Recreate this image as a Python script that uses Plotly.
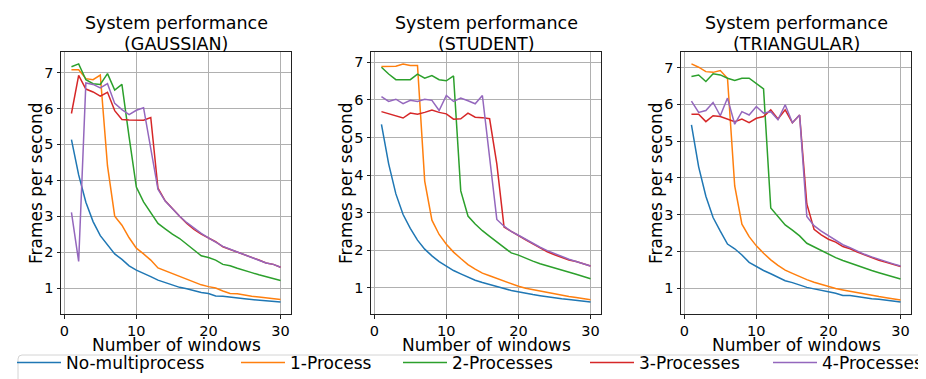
import plotly.graph_objects as go

windows = list(range(1, 31))
series_names = ["No-multiprocess", "1-Process", "2-Processes", "3-Processes", "4-Processes"]
colors = ["#1f77b4", "#ff7f0e", "#2ca02c", "#d62728", "#9467bd"]
title_line1 = "System performance"
panel_names = ["(GAUSSIAN)", "(STUDENT)", "(TRIANGULAR)"]
x_ticks = [0, 10, 20, 30]
y_ticks = [1, 2, 3, 4, 5, 6, 7]

gauss_none = [5.13, 4.15, 3.39, 2.85, 2.46, 2.2, 1.95, 1.8, 1.62, 1.5, 1.42, 1.32, 1.22, 1.15, 1.08, 1.02, 0.98, 0.92, 0.88, 0.85, 0.78, 0.77, 0.74, 0.72, 0.70, 0.68, 0.66, 0.65, 0.63, 0.61]
gauss_p1 = [7.08, 7.08, 6.83, 6.8, 6.93, 4.4, 3.0, 2.75, 2.4, 2.11, 1.95, 1.78, 1.56, 1.48, 1.4, 1.32, 1.25, 1.16, 1.09, 1.04, 1.0, 0.92, 0.85, 0.84, 0.8, 0.77, 0.75, 0.72, 0.7, 0.68]
gauss_p2 = [7.16, 7.24, 6.8, 6.69, 6.67, 6.97, 6.51, 6.67, 5.2, 3.81, 3.4, 3.1, 2.8, 2.65, 2.5, 2.38, 2.22, 2.08, 1.9, 1.85, 1.78, 1.66, 1.62, 1.55, 1.5, 1.43, 1.37, 1.32, 1.27, 1.21]
gauss_p3 = [5.86, 6.92, 6.54, 6.46, 6.34, 6.45, 5.94, 5.69, 5.68, 5.67, 5.67, 5.75, 3.78, 3.43, 3.2, 3.0, 2.8, 2.63, 2.5, 2.4, 2.29, 2.15, 2.08, 2.0, 1.93, 1.85, 1.78, 1.7, 1.66, 1.58]
gauss_p4 = [3.11, 1.74, 6.71, 6.67, 6.57, 6.69, 6.14, 5.97, 5.83, 5.95, 6.02, 4.9, 3.75, 3.42, 3.2, 3.0, 2.82, 2.66, 2.52, 2.4, 2.28, 2.16, 2.08, 2.0, 1.93, 1.85, 1.78, 1.7, 1.66, 1.58]

student_none = [5.35, 4.3, 3.5, 2.95, 2.58, 2.27, 2.03, 1.85, 1.7, 1.57, 1.46, 1.37, 1.28, 1.2, 1.14, 1.08, 1.03, 0.98, 0.93, 0.89, 0.86, 0.82, 0.79, 0.76, 0.74, 0.71, 0.69, 0.67, 0.65, 0.62]
student_p1 = [6.89, 6.9, 6.9, 6.96, 6.92, 6.92, 3.84, 2.8, 2.42, 2.16, 1.95, 1.78, 1.62, 1.5, 1.39, 1.32, 1.25, 1.17, 1.1, 1.04, 0.99, 0.95, 0.91, 0.87, 0.83, 0.8, 0.77, 0.74, 0.71, 0.68]
student_p2 = [6.87, 6.69, 6.54, 6.54, 6.54, 6.69, 6.58, 6.65, 6.54, 6.51, 6.64, 3.58, 2.91, 2.7, 2.52, 2.37, 2.22, 2.08, 1.93, 1.87, 1.78, 1.71, 1.64, 1.58, 1.52, 1.46, 1.41, 1.36, 1.3, 1.24]
student_p3 = [5.69, 5.63, 5.58, 5.52, 5.65, 5.62, 5.67, 5.73, 5.67, 5.63, 5.49, 5.5, 5.65, 5.54, 5.53, 5.5, 4.3, 2.62, 2.5, 2.4, 2.28, 2.17, 2.06, 1.96, 1.88, 1.8, 1.74, 1.7, 1.64, 1.58]
student_p4 = [6.09, 5.96, 6.02, 5.9, 5.99, 5.96, 6.02, 5.99, 5.72, 6.12, 5.96, 6.05, 5.98, 5.9, 6.12, 4.45, 2.82, 2.64, 2.5, 2.4, 2.29, 2.18, 2.08, 1.99, 1.91, 1.83, 1.76, 1.7, 1.64, 1.58]

tri_none = [5.44, 4.3, 3.5, 2.92, 2.55, 2.2, 2.07, 1.9, 1.7, 1.58, 1.48, 1.39, 1.29, 1.2, 1.15, 1.08, 1.02, 0.98, 0.93, 0.9, 0.86, 0.8, 0.8, 0.77, 0.74, 0.71, 0.7, 0.68, 0.65, 0.62]
tri_p1 = [7.1, 7.01, 6.89, 6.87, 6.92, 6.71, 3.78, 2.74, 2.4, 2.15, 1.95, 1.77, 1.62, 1.49, 1.4, 1.31, 1.23, 1.16, 1.1, 1.04, 0.99, 0.95, 0.91, 0.87, 0.83, 0.8, 0.77, 0.74, 0.71, 0.68]
tri_p2 = [6.76, 6.8, 6.62, 6.83, 6.8, 6.71, 6.65, 6.71, 6.71, 6.56, 6.42, 3.18, 2.95, 2.72, 2.58, 2.42, 2.22, 2.12, 2.02, 1.92, 1.83, 1.75, 1.68, 1.61, 1.53, 1.48, 1.42, 1.36, 1.31, 1.25]
tri_p3 = [5.73, 5.73, 5.53, 5.69, 5.67, 5.6, 5.53, 5.6, 5.5, 5.62, 5.67, 5.85, 5.6, 5.85, 5.5, 5.71, 3.29, 2.6, 2.45, 2.33, 2.25, 2.13, 2.07, 1.98, 1.9, 1.82, 1.76, 1.7, 1.65, 1.59]
tri_p4 = [6.09, 5.78, 5.83, 6.05, 5.69, 6.17, 5.46, 5.8, 5.71, 5.94, 5.76, 5.8, 5.58, 5.99, 5.5, 5.71, 2.95, 2.7, 2.55, 2.42, 2.3, 2.18, 2.1, 2.0, 1.92, 1.85, 1.78, 1.72, 1.66, 1.6]

panels = [
    [gauss_none, gauss_p1, gauss_p2, gauss_p3, gauss_p4],
    [student_none, student_p1, student_p2, student_p3, student_p4],
    [tri_none, tri_p1, tri_p2, tri_p3, tri_p4],
]

W, H = 926, 379
FONT = "DejaVu Sans"
x_px = [(53, 283), (363, 593), (673, 903)]
y_top, y_bot = 44, 306
y_dom = [1 - y_bot / H, 1 - y_top / H]
legend_x_px = [4, 228, 390, 577, 760]
legend_names = ["legend", "legend2", "legend3", "legend4", "legend5"]

fig = go.Figure()
annotations = []
for i, panel in enumerate(panels):
    sfx = "" if i == 0 else str(i + 1)
    for j, vals in enumerate(panel):
        fig.add_trace(go.Scatter(
            x=windows, y=vals, mode="lines",
            name=series_names[j],
            line=dict(color=colors[j], width=1.5),
            xaxis="x" + sfx, yaxis="y" + sfx,
            showlegend=(i == 0), legend=legend_names[j],
        ))
    allv = [v for s in panel for v in s]
    lo, hi = min(allv), max(allv)
    m = (hi - lo) * 0.05
    xm = (windows[-1] - windows[0]) * 0.05
    common = dict(
        showgrid=True, gridcolor="#b0b0b0", gridwidth=1.2,
        showline=True, linecolor="#222222", linewidth=1, mirror=True,
        ticks="outside", ticklen=3.5, tickcolor="#222222", tickwidth=1,
        tickfont=dict(family=FONT, size=14.5, color="black"),
        zeroline=False, automargin=False,
    )
    fig.layout["xaxis" + sfx] = dict(
        common, domain=[x_px[i][0] / W, x_px[i][1] / W],
        range=[windows[0] - xm, windows[-1] + xm], tickvals=x_ticks,
        anchor="y" + sfx,
    )
    fig.layout["yaxis" + sfx] = dict(
        common, domain=y_dom, range=[lo - m, hi + m], tickvals=y_ticks,
        anchor="x" + sfx,
    )
    cx = (x_px[i][0] + x_px[i][1]) / 2 / W
    annotations.append(dict(
        text=title_line1, x=cx, y=1 - 15 / H, xref="paper", yref="paper",
        xanchor="center", yanchor="middle", showarrow=False,
        font=dict(family=FONT, size=17.5, color="black"),
    ))
    annotations.append(dict(
        text=panel_names[i], x=cx, y=1 - 36 / H, xref="paper", yref="paper",
        xanchor="center", yanchor="middle", showarrow=False,
        font=dict(family=FONT, size=17.5, color="black"),
    ))
    annotations.append(dict(
        text="Number of windows", x=cx, y=1 - 337 / H, xref="paper", yref="paper",
        xanchor="center", yanchor="middle", showarrow=False,
        font=dict(family=FONT, size=17, color="black"),
    ))
    annotations.append(dict(
        text="Frames per second", x=(x_px[i][0] - 25) / W, y=(y_dom[0] + y_dom[1]) / 2,
        xref="paper", yref="paper", xanchor="center", yanchor="middle",
        textangle=-90, showarrow=False,
        font=dict(family=FONT, size=17, color="black"),
    ))

legend_common = dict(
    orientation="h", yanchor="middle", y=1 - 355 / H, xanchor="left",
    borderwidth=0, bgcolor="rgba(0,0,0,0)",
    font=dict(family=FONT, size=17, color="black"),
    itemwidth=44,
)
layout_legends = {}
for k, name in enumerate(legend_names):
    layout_legends[name] = dict(legend_common, x=legend_x_px[k] / W)

# rounded legend frame (extends past the right edge like the reference)
bx0, bx1, by0, by1, r = 10 / W, 940 / W, 1 - 378 / H, 1 - 347 / H, 4
rx, ry = r / W, r / H
frame_path = (
    f"M {bx0 + rx},{by1} L {bx1 - rx},{by1} Q {bx1},{by1} {bx1},{by1 - ry} "
    f"L {bx1},{by0 + ry} Q {bx1},{by0} {bx1 - rx},{by0} L {bx0 + rx},{by0} "
    f"Q {bx0},{by0} {bx0},{by0 + ry} L {bx0},{by1 - ry} Q {bx0},{by1} {bx0 + rx},{by1} Z"
)

fig.update_layout(
    width=W, height=H,
    margin=dict(l=0, r=0, t=0, b=0, autoexpand=False),
    paper_bgcolor="white", plot_bgcolor="white",
    annotations=annotations,
    showlegend=True,
    shapes=[dict(type="path", path=frame_path, xref="paper", yref="paper",
                 line=dict(color="#d4d4d4", width=1), fillcolor="rgba(0,0,0,0)", layer="below")],
    **layout_legends,
)
fig.write_html("out.html")
